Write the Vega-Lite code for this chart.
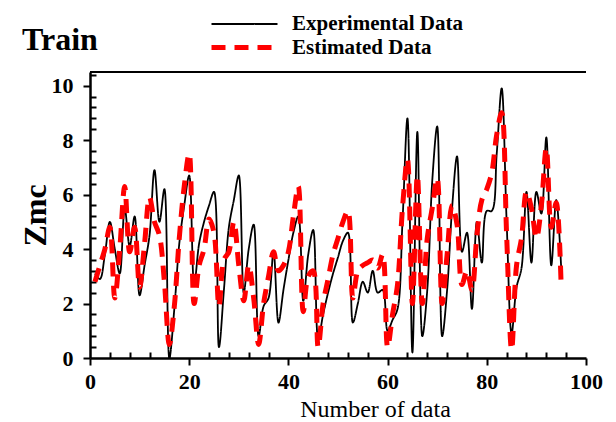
{
  "$schema": "https://vega.github.io/schema/vega-lite/v6.json",
  "width": 496,
  "height": 286,
  "autosize": "none",
  "padding": {"left": 90, "top": 72, "right": 30, "bottom": 64},
  "background": "white",
  "title": {"text": "Train", "anchor": "start", "frame": "group", "dx": -68, "dy": 70, "offset": 0, "baseline": "alphabetic", "font": "Liberation Serif", "fontSize": 32, "fontWeight": "bold", "color": "black"},
  "config": {"view": {"stroke": null}, "axis": {"grid": false}},
  "data": {"values": [
    {"n":1,"exp":3.1,"est":2.8},{"n":2,"exp":2.9,"est":3.4},{"n":3,"exp":3.8,"est":4.0},{"n":4,"exp":5.0,"est":4.8},{"n":5,"exp":4.0,"est":2.2},
    {"n":6,"exp":3.1,"est":4.0},{"n":7,"exp":5.5,"est":6.3},{"n":8,"exp":4.1,"est":3.9},{"n":9,"exp":5.2,"est":4.8},{"n":10,"exp":2.3,"est":2.6},
    {"n":11,"exp":3.4,"est":4.2},{"n":12,"exp":4.5,"est":5.9},{"n":13,"exp":6.9,"est":5.0},{"n":14,"exp":5.0,"est":4.5},{"n":15,"exp":6.2,"est":2.8},
    {"n":16,"exp":0.0,"est":0.5},{"n":17,"exp":1.8,"est":1.9},{"n":18,"exp":4.2,"est":4.4},{"n":19,"exp":5.6,"est":6.3},{"n":20,"exp":6.7,"est":7.5},
    {"n":21,"exp":2.7,"est":2.0},{"n":22,"exp":4.2,"est":3.4},{"n":23,"exp":5.0,"est":4.0},{"n":24,"exp":5.6,"est":5.1},{"n":25,"exp":6.1,"est":4.6},
    {"n":26,"exp":0.4,"est":1.9},{"n":27,"exp":2.5,"est":3.6},{"n":28,"exp":4.8,"est":3.9},{"n":29,"exp":5.8,"est":5.0},{"n":30,"exp":6.7,"est":3.4},
    {"n":31,"exp":2.4,"est":2.1},{"n":32,"exp":4.0,"est":3.4},{"n":33,"exp":4.9,"est":2.2},{"n":34,"exp":0.8,"est":0.5},{"n":35,"exp":1.9,"est":2.0},
    {"n":36,"exp":2.2,"est":3.0},{"n":37,"exp":3.9,"est":3.9},{"n":38,"exp":1.3,"est":3.2},{"n":39,"exp":2.5,"est":3.4},{"n":40,"exp":3.6,"est":3.9},
    {"n":41,"exp":4.6,"est":5.2},{"n":42,"exp":5.2,"est":6.3},{"n":43,"exp":2.1,"est":1.7},{"n":44,"exp":3.8,"est":3.0},{"n":45,"exp":4.7,"est":3.2},
    {"n":46,"exp":0.7,"est":0.4},{"n":47,"exp":1.6,"est":2.0},{"n":48,"exp":2.4,"est":2.9},{"n":49,"exp":3.1,"est":3.8},{"n":50,"exp":3.7,"est":4.4},
    {"n":51,"exp":4.3,"est":5.0},{"n":52,"exp":4.6,"est":5.4},{"n":53,"exp":1.3,"est":2.2},{"n":54,"exp":2.0,"est":3.2},{"n":55,"exp":2.8,"est":3.4},
    {"n":56,"exp":2.4,"est":3.5},{"n":57,"exp":3.2,"est":3.6},{"n":58,"exp":2.4,"est":3.3},{"n":59,"exp":2.5,"est":3.8},{"n":60,"exp":1.0,"est":0.4},
    {"n":61,"exp":1.4,"est":1.6},{"n":62,"exp":1.8,"est":2.7},{"n":63,"exp":5.0,"est":5.5},{"n":64,"exp":8.8,"est":7.3},{"n":65,"exp":0.2,"est":2.0},
    {"n":66,"exp":8.3,"est":6.7},{"n":67,"exp":0.8,"est":2.0},{"n":68,"exp":2.5,"est":4.4},{"n":69,"exp":6.5,"est":5.5},{"n":70,"exp":8.5,"est":6.6},
    {"n":71,"exp":0.8,"est":2.0},{"n":72,"exp":2.5,"est":3.8},{"n":73,"exp":5.5,"est":5.6},{"n":74,"exp":7.4,"est":4.9},{"n":75,"exp":3.9,"est":2.7},
    {"n":76,"exp":4.6,"est":3.2},{"n":77,"exp":1.8,"est":2.5},{"n":78,"exp":5.0,"est":4.5},{"n":79,"exp":3.5,"est":5.8},{"n":80,"exp":5.4,"est":6.2},
    {"n":81,"exp":5.4,"est":6.8},{"n":82,"exp":7.5,"est":8.2},{"n":83,"exp":9.9,"est":9.0},{"n":84,"exp":5.0,"est":4.5},{"n":85,"exp":0.9,"est":0.3},
    {"n":86,"exp":2.6,"est":3.4},{"n":87,"exp":3.3,"est":4.4},{"n":88,"exp":6.1,"est":6.1},{"n":89,"exp":3.5,"est":5.5},{"n":90,"exp":6.1,"est":4.4},
    {"n":91,"exp":5.3,"est":5.6},{"n":92,"exp":8.1,"est":7.7},{"n":93,"exp":3.4,"est":4.8},{"n":94,"exp":5.8,"est":5.7},{"n":95,"exp":3.3,"est":2.6}
  ]},
  "transform": [
    {"fold": ["exp", "est"], "as": ["key", "value"]},
    {"lookup": "key", "from": {"data": {"values": [{"key": "exp", "series": "Experimental Data"}, {"key": "est", "series": "Estimated Data"}]}, "key": "key", "fields": ["series"]}}
  ],
  "resolve": {"axis": {"y": "independent"}},
  "layer": [
    {
      "mark": {"type": "line", "interpolate": "catmull-rom", "clip": true},
      "encoding": {
        "x": {"field": "n", "type": "quantitative", "scale": {"domain": [0, 100], "nice": false},
          "axis": {"orient": "bottom", "values": [0,4,8,12,16,20,24,28,32,36,40,44,48,52,56,60,64,68,72,76,80,84,88,92,96,100],
            "tickSize": {"condition": {"test": "datum.value % 20 === 0", "value": 7}, "value": -6},
            "tickWidth": 2, "tickColor": "black", "domainColor": "black", "domainWidth": 2.5,
            "labelExpr": "datum.value % 20 === 0 ? datum.label : ''",
            "labelFont": "Liberation Serif", "labelFontWeight": "bold", "labelFontSize": 22, "labelColor": "black", "labelPadding": 6, "labelFlush": false, "labelOverlap": false,
            "title": "Number of data", "titleFont": "Liberation Serif", "titleFontWeight": "normal", "titleFontSize": 24, "titleColor": "black", "titleX": 285, "titleY": 58, "titleBaseline": "alphabetic", "titleAlign": "center"}},
        "y": {"field": "value", "type": "quantitative", "scale": {"domain": [0, 10.5], "nice": false, "zero": false},
          "axis": {"orient": "left", "values": [0,0.4,0.8,1.2,1.6,2,2.4,2.8,3.2,3.6,4,4.4,4.8,5.2,5.6,6,6.4,6.8,7.2,7.6,8,8.4,8.8,9.2,9.6,10,10.4],
            "tickSize": {"condition": {"test": "abs(datum.value / 2 - round(datum.value / 2)) < 0.01", "value": 7}, "value": -6},
            "tickWidth": 2, "tickColor": "black", "domainColor": "black", "domainWidth": 2.5,
            "labelExpr": "abs(datum.value / 2 - round(datum.value / 2)) < 0.01 ? format(datum.value, 'd') : ''",
            "labelFont": "Liberation Serif", "labelFontWeight": "bold", "labelFontSize": 22, "labelColor": "black", "labelPadding": 10, "labelFlush": false, "labelOverlap": false, "labelBound": false,
            "title": "Zmc", "titleFont": "Liberation Serif", "titleFontWeight": "bold", "titleFontSize": 32, "titleColor": "black", "titleAngle": -90, "titleX": -55, "titleY": 143, "titleBaseline": "middle", "titleAlign": "center"}},
        "color": {"field": "series", "type": "nominal", "scale": {"domain": ["Experimental Data", "Estimated Data"], "range": ["black", "#ff0000"]},
          "legend": {"title": null, "orient": "none", "legendX": 141, "legendY": -60, "symbolType": "M-3,0H3", "symbolSize": 484, "symbolFillColor": "transparent", "labelFont": "Liberation Serif", "labelFontWeight": "bold", "labelFontSize": 21, "labelColor": "black", "labelOffset": 34, "rowPadding": 0, "labelLimit": 400}},
        "strokeDash": {"field": "series", "type": "nominal", "scale": {"domain": ["Experimental Data", "Estimated Data"], "range": [[1, 0], [14, 9]]}, "legend": {"title": null}},
        "strokeWidth": {"field": "series", "type": "nominal", "scale": {"domain": ["Experimental Data", "Estimated Data"], "range": [1.8, 5]}, "legend": {"title": null}},
        "order": {"field": "n", "type": "quantitative"}
      }
    },
    {
      "mark": {"type": "rule", "color": "black", "strokeWidth": 2},
      "encoding": {"y": {"datum": 10.5, "type": "quantitative", "axis": null}}
    }
  ]
}
